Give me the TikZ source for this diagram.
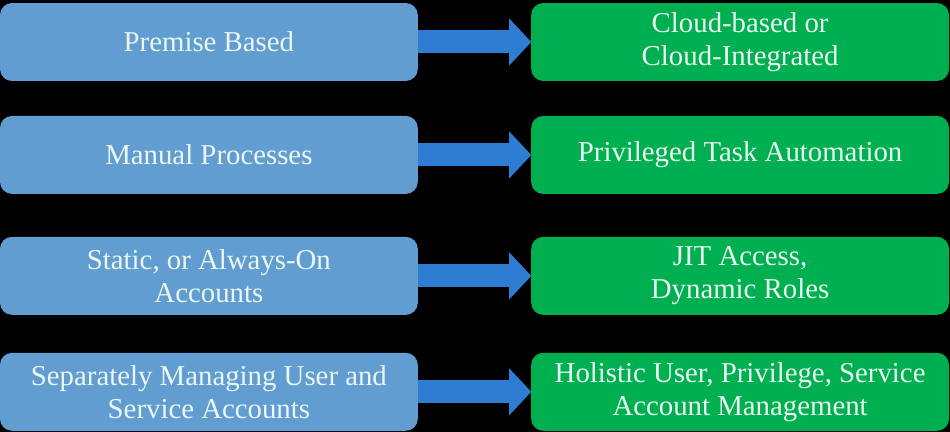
\documentclass[tikz,border=0pt]{standalone}
\usepackage{fontspec}
\setmainfont{Liberation Serif}
\usepackage{tikz}
\usetikzlibrary{arrows.meta}
\definecolor{oldblue}{RGB}{98,157,209}
\definecolor{arrowblue}{RGB}{47,125,211}
\definecolor{newgreen}{RGB}{0,176,80}
\definecolor{boxtext}{RGB}{234,247,242}
\tikzset{>=latex}
\tikzset{
  panel/.style={rounded corners=0.12cm, minimum width=4.18cm, minimum height=0.78cm,
    inner sep=0pt, outer sep=0pt, align=center, text=boxtext,
    font=\fontsize{8.2}{9.4}\selectfont},
  oldbox/.style={panel, fill=oldblue},
  newbox/.style={panel, fill=newgreen},
  movearrow/.style={draw=arrowblue, line width=0.23cm,
    -{Triangle[length=0.22cm, width=0.47cm, line width=0pt, fill=arrowblue]}}
}

\begin{document}
\begin{tikzpicture}
    \fill[black] (0,0) rectangle (9.5,4.32);

    \node[oldbox] at (2.085,3.90) (L1) {Premise Based};
    \node[oldbox] at (2.085,2.77) (L2) {Manual Processes};
    \node[oldbox] at (2.085,1.56) (L3) {Static, or Always-On\\Accounts};
    \node[oldbox] at (2.085,0.40) (L4) {Separately Managing User and\\Service Accounts};

    \node[newbox] at (7.40,3.90) (R1) {Cloud-based or\\Cloud-Integrated};
    \node[newbox] at (7.40,2.77) (R2) {Privileged Task Automation};
    \node[newbox] at (7.40,1.56) (R3) {JIT Access,\\Dynamic Roles};
    \node[newbox] at (7.40,0.40) (R4) {Holistic User, Privilege, Service\\Account Management};

    % old way -> new way
    \path[movearrow] (L1) edge (R1);
    \path[movearrow] (L2) edge (R2);
    \path[movearrow] (L3) edge (R3);
    \path[movearrow] (L4) edge (R4);
\end{tikzpicture}
\end{document}
